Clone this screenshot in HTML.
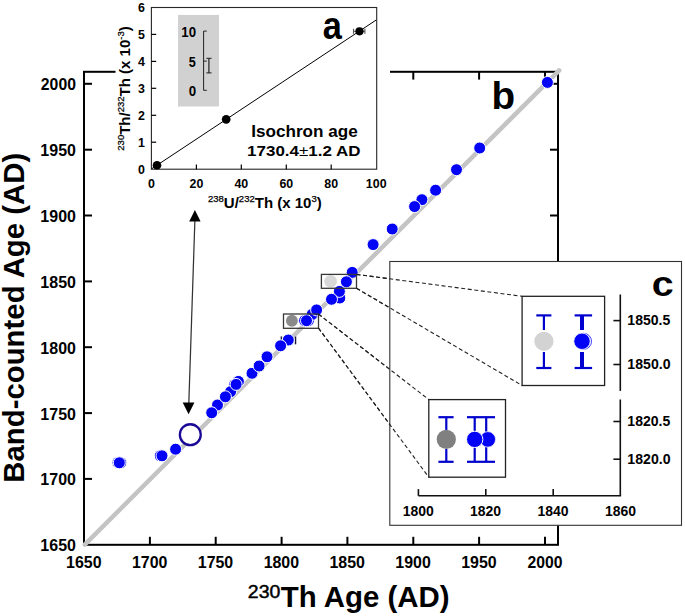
<!DOCTYPE html>
<html><head><meta charset="utf-8"><style>
html,body{margin:0;padding:0;background:#fff;}
svg{display:block;}
text{font-family:"Liberation Sans", sans-serif;fill:#000;}
.al{font-size:12.4px;font-weight:bold;}
.at{font-size:15px;font-weight:bold;}
.asup{font-size:9.5px;font-weight:normal;stroke:#000;stroke-width:0.25px;}
</style></head><body>
<svg width="685" height="616" viewBox="0 0 685 616">
<rect width="685" height="616" fill="#fff"/>
<rect x="84" y="71.8" width="474" height="473" fill="none" stroke="#000" stroke-width="2"/>
<line x1="149.9" y1="544.8" x2="149.9" y2="536.8" stroke="#000" stroke-width="2"/>
<line x1="149.9" y1="71.8" x2="149.9" y2="79.6" stroke="#000" stroke-width="2"/>
<line x1="84" y1="478.9" x2="92" y2="478.9" stroke="#000" stroke-width="2"/>
<line x1="558" y1="478.9" x2="550" y2="478.9" stroke="#000" stroke-width="2"/>
<line x1="215.7" y1="544.8" x2="215.7" y2="536.8" stroke="#000" stroke-width="2"/>
<line x1="215.7" y1="71.8" x2="215.7" y2="79.6" stroke="#000" stroke-width="2"/>
<line x1="84" y1="413.1" x2="92" y2="413.1" stroke="#000" stroke-width="2"/>
<line x1="558" y1="413.1" x2="550" y2="413.1" stroke="#000" stroke-width="2"/>
<line x1="281.6" y1="544.8" x2="281.6" y2="536.8" stroke="#000" stroke-width="2"/>
<line x1="281.6" y1="71.8" x2="281.6" y2="79.6" stroke="#000" stroke-width="2"/>
<line x1="84" y1="347.2" x2="92" y2="347.2" stroke="#000" stroke-width="2"/>
<line x1="558" y1="347.2" x2="550" y2="347.2" stroke="#000" stroke-width="2"/>
<line x1="347.4" y1="544.8" x2="347.4" y2="536.8" stroke="#000" stroke-width="2"/>
<line x1="347.4" y1="71.8" x2="347.4" y2="79.6" stroke="#000" stroke-width="2"/>
<line x1="84" y1="281.4" x2="92" y2="281.4" stroke="#000" stroke-width="2"/>
<line x1="558" y1="281.4" x2="550" y2="281.4" stroke="#000" stroke-width="2"/>
<line x1="413.3" y1="544.8" x2="413.3" y2="536.8" stroke="#000" stroke-width="2"/>
<line x1="413.3" y1="71.8" x2="413.3" y2="79.6" stroke="#000" stroke-width="2"/>
<line x1="84" y1="215.5" x2="92" y2="215.5" stroke="#000" stroke-width="2"/>
<line x1="558" y1="215.5" x2="550" y2="215.5" stroke="#000" stroke-width="2"/>
<line x1="479.1" y1="544.8" x2="479.1" y2="536.8" stroke="#000" stroke-width="2"/>
<line x1="479.1" y1="71.8" x2="479.1" y2="79.6" stroke="#000" stroke-width="2"/>
<line x1="84" y1="149.7" x2="92" y2="149.7" stroke="#000" stroke-width="2"/>
<line x1="558" y1="149.7" x2="550" y2="149.7" stroke="#000" stroke-width="2"/>
<line x1="545.0" y1="544.8" x2="545.0" y2="536.8" stroke="#000" stroke-width="2"/>
<line x1="545.0" y1="71.8" x2="545.0" y2="79.6" stroke="#000" stroke-width="2"/>
<line x1="84" y1="83.8" x2="92" y2="83.8" stroke="#000" stroke-width="2"/>
<line x1="558" y1="83.8" x2="550" y2="83.8" stroke="#000" stroke-width="2"/>
<text x="66.06" y="567.94" font-size="16.06" font-weight="bold" textLength="35.47" lengthAdjust="spacingAndGlyphs">1650</text>
<text x="40.36" y="551.34" font-size="15.92" font-weight="bold" textLength="35.57" lengthAdjust="spacingAndGlyphs">1650</text>
<text x="131.92" y="567.94" font-size="16.06" font-weight="bold" textLength="35.47" lengthAdjust="spacingAndGlyphs">1700</text>
<text x="40.36" y="485.49" font-size="15.92" font-weight="bold" textLength="35.57" lengthAdjust="spacingAndGlyphs">1700</text>
<text x="197.77" y="567.94" font-size="16.06" font-weight="bold" textLength="35.47" lengthAdjust="spacingAndGlyphs">1750</text>
<text x="40.36" y="419.63" font-size="15.92" font-weight="bold" textLength="35.57" lengthAdjust="spacingAndGlyphs">1750</text>
<text x="263.63" y="567.94" font-size="16.06" font-weight="bold" textLength="35.47" lengthAdjust="spacingAndGlyphs">1800</text>
<text x="40.36" y="353.78" font-size="15.92" font-weight="bold" textLength="35.57" lengthAdjust="spacingAndGlyphs">1800</text>
<text x="329.48" y="567.94" font-size="16.06" font-weight="bold" textLength="35.47" lengthAdjust="spacingAndGlyphs">1850</text>
<text x="40.36" y="287.92" font-size="15.92" font-weight="bold" textLength="35.57" lengthAdjust="spacingAndGlyphs">1850</text>
<text x="395.34" y="567.94" font-size="16.06" font-weight="bold" textLength="35.47" lengthAdjust="spacingAndGlyphs">1900</text>
<text x="40.36" y="222.07" font-size="15.92" font-weight="bold" textLength="35.57" lengthAdjust="spacingAndGlyphs">1900</text>
<text x="461.19" y="567.94" font-size="16.06" font-weight="bold" textLength="35.47" lengthAdjust="spacingAndGlyphs">1950</text>
<text x="40.36" y="156.21" font-size="15.92" font-weight="bold" textLength="35.57" lengthAdjust="spacingAndGlyphs">1950</text>
<text x="527.53" y="567.94" font-size="16.06" font-weight="bold" textLength="34.97" lengthAdjust="spacingAndGlyphs">2000</text>
<text x="40.85" y="90.36" font-size="15.92" font-weight="bold" textLength="35.08" lengthAdjust="spacingAndGlyphs">2000</text>
<line x1="84.8" y1="544.6" x2="559.2" y2="70.3" stroke="#c4c4c4" stroke-width="4.5" stroke-linecap="round"/>
<circle cx="118.0" cy="462.8" r="6.0" fill="#0303f6" stroke="#fff" stroke-width="1"/>
<circle cx="120.8" cy="462.8" r="6.0" fill="#0303f6" stroke="#fff" stroke-width="1"/>
<circle cx="160.3" cy="455.8" r="6.0" fill="#0303f6" stroke="#fff" stroke-width="1"/>
<circle cx="304.6" cy="320.7" r="6.0" fill="#0303f6" stroke="#fff" stroke-width="1"/>
<circle cx="308.4" cy="320.7" r="6.0" fill="#0303f6" stroke="#fff" stroke-width="1"/>
<circle cx="234.7" cy="384.4" r="6.0" fill="#0303f6" stroke="#fff" stroke-width="1"/>
<line x1="281.4" y1="336.4" x2="281.4" y2="340.5" stroke="#1a1a40" stroke-width="1.5"/>
<line x1="295.5" y1="336.6" x2="295.5" y2="344.3" stroke="#1a1a40" stroke-width="1.5"/>
<circle cx="119.3" cy="462.8" r="6.0" fill="#0303f6" stroke="#fff" stroke-width="1"/>
<circle cx="162.0" cy="455.8" r="6.0" fill="#0303f6" stroke="#fff" stroke-width="1"/>
<circle cx="175.6" cy="449.2" r="6.0" fill="#0303f6" stroke="#fff" stroke-width="1"/>
<circle cx="217.5" cy="405.0" r="6.0" fill="#0303f6" stroke="#fff" stroke-width="1"/>
<circle cx="230.6" cy="391.7" r="6.0" fill="#0303f6" stroke="#fff" stroke-width="1"/>
<circle cx="238.4" cy="381.4" r="6.0" fill="#0303f6" stroke="#fff" stroke-width="1"/>
<circle cx="211.7" cy="412.8" r="6.0" fill="#0303f6" stroke="#fff" stroke-width="1"/>
<circle cx="225.4" cy="396.8" r="6.0" fill="#0303f6" stroke="#fff" stroke-width="1"/>
<circle cx="236.1" cy="384.4" r="6.0" fill="#0303f6" stroke="#fff" stroke-width="1"/>
<circle cx="252.0" cy="373.3" r="6.0" fill="#0303f6" stroke="#fff" stroke-width="1"/>
<circle cx="259.1" cy="366.0" r="6.0" fill="#0303f6" stroke="#fff" stroke-width="1"/>
<circle cx="267.0" cy="356.8" r="6.0" fill="#0303f6" stroke="#fff" stroke-width="1"/>
<circle cx="288.3" cy="340.0" r="6.0" fill="#0303f6" stroke="#fff" stroke-width="1"/>
<circle cx="280.6" cy="345.8" r="6.0" fill="#0303f6" stroke="#fff" stroke-width="1"/>
<circle cx="312.1" cy="314.4" r="6.0" fill="#0303f6" stroke="#fff" stroke-width="1"/>
<circle cx="316.6" cy="309.9" r="6.0" fill="#0303f6" stroke="#fff" stroke-width="1"/>
<circle cx="339.8" cy="298.0" r="6.0" fill="#0303f6" stroke="#fff" stroke-width="1"/>
<circle cx="339.4" cy="291.4" r="6.0" fill="#0303f6" stroke="#fff" stroke-width="1"/>
<circle cx="331.5" cy="299.3" r="6.0" fill="#0303f6" stroke="#fff" stroke-width="1"/>
<circle cx="352.2" cy="272.4" r="6.0" fill="#0303f6" stroke="#fff" stroke-width="1"/>
<circle cx="373.1" cy="244.6" r="6.0" fill="#0303f6" stroke="#fff" stroke-width="1"/>
<circle cx="392.2" cy="229.0" r="6.0" fill="#0303f6" stroke="#fff" stroke-width="1"/>
<circle cx="421.9" cy="199.7" r="6.0" fill="#0303f6" stroke="#fff" stroke-width="1"/>
<circle cx="414.6" cy="206.6" r="6.0" fill="#0303f6" stroke="#fff" stroke-width="1"/>
<circle cx="435.6" cy="190.2" r="6.0" fill="#0303f6" stroke="#fff" stroke-width="1"/>
<circle cx="456.5" cy="169.7" r="6.0" fill="#0303f6" stroke="#fff" stroke-width="1"/>
<circle cx="479.7" cy="148.0" r="6.0" fill="#0303f6" stroke="#fff" stroke-width="1"/>
<circle cx="547.4" cy="82.4" r="6.0" fill="#0303f6" stroke="#fff" stroke-width="1"/>
<circle cx="291.9" cy="320.7" r="5.95" fill="#8a8a8a"/>
<circle cx="330.6" cy="281.3" r="6.3" fill="#d8d8d8"/>
<circle cx="346.4" cy="281.8" r="6.0" fill="#0303f6" stroke="#fff" stroke-width="1"/>
<circle cx="306.5" cy="320.7" r="6.0" fill="#0303f6" stroke="#fff" stroke-width="1"/>
<circle cx="190.3" cy="434.7" r="10.45" fill="#fff" stroke="#1a0896" stroke-width="2.3"/>
<rect x="283.5" y="314.0" width="35.0" height="14.3" fill="none" stroke="#383838" stroke-width="1.3"/>
<rect x="321.4" y="274.4" width="35.1" height="13.9" fill="none" stroke="#383838" stroke-width="1.3"/>
<line x1="194.9" y1="220" x2="188.8" y2="404" stroke="#333" stroke-width="1.25"/>
<polygon points="194.9,210 189.2,221.6 200.6,221.6" fill="#000"/>
<polygon points="188.6,414.3 182.7,402.5 194.4,402.5" fill="#000"/>
<g stroke="#222" stroke-width="1.1" stroke-dasharray="4,2.6" fill="none"><line x1="356.5" y1="274.4" x2="522.1" y2="296.3"/><line x1="356.5" y1="288.3" x2="522.1" y2="385.5"/><line x1="318.5" y1="314.1" x2="428.8" y2="399.6"/><line x1="318.5" y1="328.1" x2="428.8" y2="477.2"/></g>
<text x="491.59" y="109.32" font-size="38.37" font-weight="bold" textLength="23.59" lengthAdjust="spacingAndGlyphs">b</text>
<text transform="rotate(-90)" x="-482.71" y="23.86" font-size="29.73" font-weight="bold" textLength="329.88" lengthAdjust="spacingAndGlyphs">Band-counted Age (AD)</text>
<text x="247.83" y="597.82" font-size="18.45" font-weight="normal" textLength="32.52" lengthAdjust="spacingAndGlyphs" stroke="#000" stroke-width="0.45">230</text>
<text x="280.71" y="606.60" font-size="29.52" font-weight="bold" textLength="168.76" lengthAdjust="spacingAndGlyphs">Th Age (AD)</text>
<rect x="115.5" y="0" width="274.5" height="205" fill="#fff"/>
<rect x="178" y="14.9" width="41" height="91.6" fill="#d1d1d1"/>
<rect x="151.4" y="7.5" width="225.3" height="161.7" fill="none" stroke="#262626" stroke-width="1.1"/>
<line x1="151.4" y1="142.2" x2="156.2" y2="142.2" stroke="#000" stroke-width="1.2"/>
<line x1="151.4" y1="115.3" x2="156.2" y2="115.3" stroke="#000" stroke-width="1.2"/>
<line x1="151.4" y1="88.3" x2="156.2" y2="88.3" stroke="#000" stroke-width="1.2"/>
<line x1="151.4" y1="61.4" x2="156.2" y2="61.4" stroke="#000" stroke-width="1.2"/>
<line x1="151.4" y1="34.4" x2="156.2" y2="34.4" stroke="#000" stroke-width="1.2"/>
<line x1="196.4" y1="169.2" x2="196.4" y2="164.6" stroke="#000" stroke-width="1.2"/>
<line x1="241.3" y1="169.2" x2="241.3" y2="164.6" stroke="#000" stroke-width="1.2"/>
<line x1="286.3" y1="169.2" x2="286.3" y2="164.6" stroke="#000" stroke-width="1.2"/>
<line x1="331.2" y1="169.2" x2="331.2" y2="164.6" stroke="#000" stroke-width="1.2"/>
<text x="144.8" y="173.6" text-anchor="end" class="al">0</text>
<text x="144.8" y="146.7" text-anchor="end" class="al">1</text>
<text x="144.8" y="119.7" text-anchor="end" class="al">2</text>
<text x="144.8" y="92.8" text-anchor="end" class="al">3</text>
<text x="144.8" y="65.8" text-anchor="end" class="al">4</text>
<text x="144.8" y="38.8" text-anchor="end" class="al">5</text>
<text x="144.8" y="11.9" text-anchor="end" class="al">6</text>
<text x="151.4" y="187.5" text-anchor="middle" class="al">0</text>
<text x="196.4" y="187.5" text-anchor="middle" class="al">20</text>
<text x="241.3" y="187.5" text-anchor="middle" class="al">40</text>
<text x="286.3" y="187.5" text-anchor="middle" class="al">60</text>
<text x="331.2" y="187.5" text-anchor="middle" class="al">80</text>
<text x="376.2" y="187.5" text-anchor="middle" class="al">100</text>
<line x1="151.6" y1="168.8" x2="376.2" y2="20.0" stroke="#000" stroke-width="1"/>
<circle cx="157.0" cy="165.3" r="4.3" fill="#000"/>
<circle cx="226.2" cy="119.3" r="4.35" fill="#000"/>
<line x1="353.5" y1="31.3" x2="364.9" y2="31.3" stroke="#555" stroke-width="1.1"/>
<line x1="353.5" y1="28.8" x2="353.5" y2="33.8" stroke="#555" stroke-width="1.1"/>
<line x1="364.9" y1="28.8" x2="364.9" y2="33.8" stroke="#555" stroke-width="1.1"/>
<circle cx="359.5" cy="31.3" r="4.1" fill="#000"/>
<g stroke="#222" stroke-width="1" fill="none"><line x1="203.6" y1="31.1" x2="203.6" y2="90.3"/><line x1="203.6" y1="31.1" x2="206.8" y2="31.1"/><line x1="203.6" y1="61.1" x2="206.8" y2="61.1"/><line x1="203.6" y1="90.3" x2="206.8" y2="90.3"/><line x1="208.9" y1="58.3" x2="208.9" y2="72.9" stroke-width="1.2"/><line x1="206.3" y1="58.3" x2="211.6" y2="58.3"/><line x1="206.3" y1="72.9" x2="211.6" y2="72.9"/></g>
<text x="181.34" y="37.26" font-size="14.23" font-weight="bold" textLength="14.72" lengthAdjust="spacingAndGlyphs">10</text>
<text x="188.82" y="66.86" font-size="14.43" font-weight="bold" textLength="7.01" lengthAdjust="spacingAndGlyphs">5</text>
<text x="188.67" y="96.06" font-size="14.23" font-weight="bold" textLength="7.38" lengthAdjust="spacingAndGlyphs">0</text>
<text x="251.29" y="137.41" font-size="15.67" font-weight="bold" textLength="106.39" lengthAdjust="spacingAndGlyphs">Isochron age</text>
<text x="247.10" y="155.75" font-size="14.79" font-weight="bold" textLength="113.43" lengthAdjust="spacingAndGlyphs">1730.4<tspan font-weight="normal">±</tspan>1.2 AD</text>
<text x="322.77" y="38.51" font-size="39.45" font-weight="bold" textLength="19.10" lengthAdjust="spacingAndGlyphs">a</text>
<text x="208" y="208" class="at"><tspan class="asup" dy="-6">238</tspan><tspan dy="6">U/</tspan><tspan class="asup" dy="-6">232</tspan><tspan dy="6">Th (x 10</tspan><tspan class="asup" dy="-6">3</tspan><tspan dy="6">)</tspan></text>
<text transform="translate(130,88.5) rotate(-90)" text-anchor="middle" class="at"><tspan class="asup" dy="-6">230</tspan><tspan dy="6">Th/</tspan><tspan class="asup" dy="-6">232</tspan><tspan dy="6">Th (x 10</tspan><tspan class="asup" dy="-6">-3</tspan><tspan dy="6">)</tspan></text>
<rect x="389.8" y="261.5" width="291.7" height="263.8" fill="#fff" stroke="#333" stroke-width="1.1"/>
<g stroke="#222" stroke-width="1.1" stroke-dasharray="4,2.6" fill="none"><line x1="356.5" y1="274.4" x2="522.1" y2="296.3"/><line x1="356.5" y1="288.3" x2="522.1" y2="385.5"/><line x1="318.5" y1="314.1" x2="428.8" y2="399.6"/><line x1="318.5" y1="328.1" x2="428.8" y2="477.2"/></g>
<g stroke="#111" stroke-width="1.6" fill="none"><line x1="620.3" y1="294.5" x2="620.3" y2="390.9"/><line x1="620.3" y1="399.5" x2="620.3" y2="495.8"/><line x1="418.4" y1="495.8" x2="621.1" y2="495.8"/><line x1="613.4" y1="320.6" x2="620.3" y2="320.6"/><line x1="613.4" y1="364.5" x2="620.3" y2="364.5"/><line x1="613.4" y1="421.5" x2="620.3" y2="421.5"/><line x1="613.4" y1="459.2" x2="620.3" y2="459.2"/><line x1="418.4" y1="495.8" x2="418.4" y2="489.1"/><line x1="485.8" y1="495.8" x2="485.8" y2="489.1"/><line x1="553.2" y1="495.8" x2="553.2" y2="489.1"/></g>
<text x="402.69" y="515.66" font-size="13.94" font-weight="bold" textLength="31.06" lengthAdjust="spacingAndGlyphs">1800</text>
<text x="470.09" y="515.66" font-size="13.94" font-weight="bold" textLength="31.06" lengthAdjust="spacingAndGlyphs">1820</text>
<text x="537.49" y="515.66" font-size="13.94" font-weight="bold" textLength="31.06" lengthAdjust="spacingAndGlyphs">1840</text>
<text x="604.89" y="515.66" font-size="13.94" font-weight="bold" textLength="31.06" lengthAdjust="spacingAndGlyphs">1860</text>
<text x="627.39" y="325.46" font-size="13.94" font-weight="bold" textLength="42.94" lengthAdjust="spacingAndGlyphs">1850.5</text>
<text x="627.38" y="369.36" font-size="13.94" font-weight="bold" textLength="43.16" lengthAdjust="spacingAndGlyphs">1850.0</text>
<text x="627.39" y="426.36" font-size="13.94" font-weight="bold" textLength="42.94" lengthAdjust="spacingAndGlyphs">1820.5</text>
<text x="627.38" y="464.06" font-size="13.94" font-weight="bold" textLength="43.16" lengthAdjust="spacingAndGlyphs">1820.0</text>
<text x="651.72" y="295.95" font-size="35.45" font-weight="bold" textLength="21.90" lengthAdjust="spacingAndGlyphs">c</text>
<rect x="522.1" y="296.3" width="82.5" height="89.2" fill="#fff" stroke="#222" stroke-width="1.3"/>
<g stroke="#0000cc" stroke-width="2.2" fill="none"><line x1="543.9" y1="315.4" x2="543.9" y2="330"/><line x1="536.3" y1="315.4" x2="551.4" y2="315.4"/><line x1="543.9" y1="352" x2="543.9" y2="368"/><line x1="536.3" y1="368" x2="551.4" y2="368"/></g>
<g stroke="#0000d0" stroke-width="2.2" fill="none"><line x1="582" y1="315.4" x2="582" y2="330" stroke-width="4"/><line x1="574.6" y1="315.4" x2="592.1" y2="315.4"/><line x1="582" y1="352" x2="582" y2="368" stroke-width="4"/><line x1="574.6" y1="368" x2="592.1" y2="368"/></g>
<circle cx="543.9" cy="341.3" r="9.6" fill="#d3d3d3"/>
<circle cx="583.5" cy="341.3" r="8" fill="none" stroke="#0303f6" stroke-width="0.8"/>
<circle cx="582" cy="341.3" r="8.2" fill="#0303f6" stroke="#fff" stroke-width="0.8"/>
<rect x="428.8" y="399.6" width="76.7" height="77.6" fill="#fff" stroke="#222" stroke-width="1.3"/>
<g stroke="#0000cc" stroke-width="2.2" fill="none"><line x1="446.3" y1="417.2" x2="446.3" y2="430"/><line x1="438.4" y1="417.2" x2="453.6" y2="417.2"/><line x1="446.3" y1="449" x2="446.3" y2="461.8"/><line x1="438.4" y1="461.8" x2="453.6" y2="461.8"/><line x1="474.7" y1="417.2" x2="474.7" y2="461.8"/><line x1="486.2" y1="417.2" x2="486.2" y2="461.8"/><line x1="467" y1="417.2" x2="495" y2="417.2"/><line x1="467" y1="461.8" x2="495" y2="461.8"/></g>
<circle cx="446.3" cy="439.4" r="9.6" fill="#808080"/>
<circle cx="487.8" cy="439.4" r="7.8" fill="#0303f6" stroke="#fff" stroke-width="0.8"/>
<circle cx="474.7" cy="439.4" r="8.2" fill="#0303f6" stroke="#fff" stroke-width="1"/>
</svg>
</body></html>
